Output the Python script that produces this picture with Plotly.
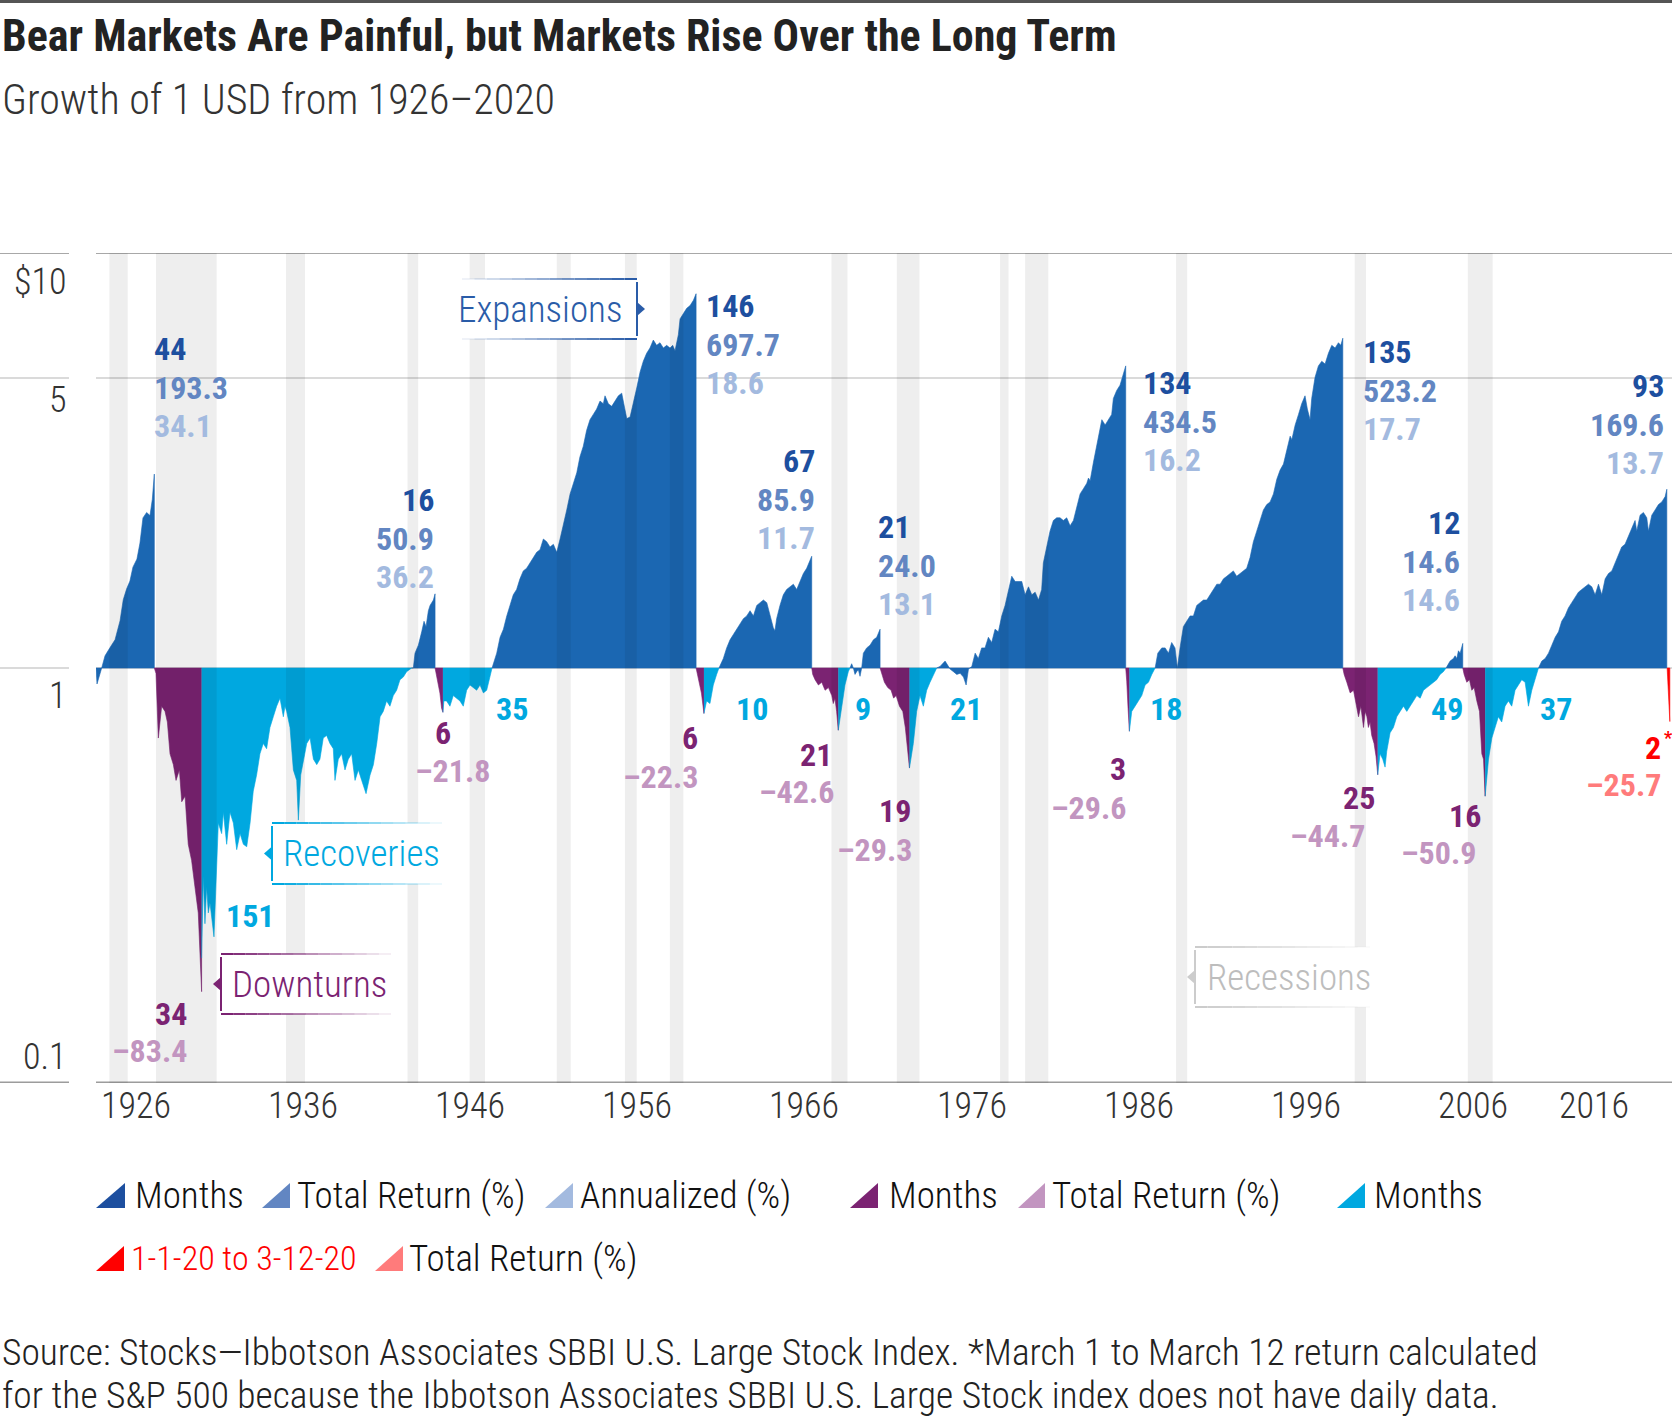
import glob
import math
import os
import subprocess

import plotly.graph_objects as go

# ---------------- data (years as decimal, values = growth of 1 USD within each phase) ----------------
exp1_t = [1926.12, 1926.18, 1926.46, 1926.66, 1926.96, 1927.26, 1927.56, 1927.75, 1927.95, 1928.15, 1928.33,
          1928.57, 1928.75, 1928.93, 1929.15, 1929.35, 1929.49, 1929.61]
exp1_v = [1.00, 0.915, 1.00, 1.07, 1.12, 1.17, 1.30, 1.46, 1.55, 1.62, 1.75, 1.83, 2.00, 2.30, 2.37, 2.33, 2.55, 2.933]

dn1_t = [1929.61, 1929.71, 1929.85, 1930.05, 1930.25, 1930.39, 1930.55, 1930.75, 1930.91, 1931.11, 1931.25,
         1931.45, 1931.64, 1931.84, 1932.04, 1932.24, 1932.44]
dn1_v = [1.00, 0.97, 0.678, 0.809, 0.786, 0.741, 0.621, 0.585, 0.536, 0.568, 0.476, 0.491, 0.376, 0.344, 0.297,
         0.257, 0.166]

rc1_t = [1932.44, 1932.54, 1932.64, 1932.74, 1932.84, 1932.94, 1933.18, 1933.34, 1933.44, 1933.64, 1933.74, 1933.94,
         1934.14, 1934.34, 1934.54, 1934.74, 1934.94, 1935.14, 1935.34, 1935.53, 1935.73, 1935.93, 1936.13, 1936.33,
         1936.53, 1936.73, 1936.93, 1937.13, 1937.23, 1937.33, 1937.43, 1937.53, 1937.73, 1937.93, 1938.13, 1938.23,
         1938.37, 1938.53, 1938.73, 1938.93, 1939.13, 1939.33, 1939.52, 1939.72, 1939.92, 1940.12, 1940.32, 1940.42,
         1940.62, 1940.82, 1941.02, 1941.22, 1941.42, 1941.62, 1941.82, 1942.02, 1942.28, 1942.52, 1942.72, 1942.92,
         1943.12, 1943.31, 1943.51, 1943.71, 1943.91, 1944.11, 1944.31, 1944.51, 1944.71, 1945.01]
rc1_v = [0.20, 0.315, 0.242, 0.297, 0.257, 0.272, 0.225, 0.344, 0.423, 0.399, 0.449, 0.376, 0.449, 0.423, 0.365,
         0.399, 0.376, 0.371, 0.423, 0.505, 0.552, 0.621, 0.658, 0.639, 0.719, 0.763, 0.809, 0.846, 0.809, 0.763,
         0.809, 0.786, 0.719, 0.568, 0.536, 0.430, 0.552, 0.603, 0.658, 0.678, 0.603, 0.585, 0.603, 0.678, 0.688,
         0.658, 0.639, 0.536, 0.603, 0.621, 0.568, 0.603, 0.621, 0.536, 0.568, 0.536, 0.498, 0.552, 0.585, 0.658,
         0.763, 0.786, 0.833, 0.809, 0.858, 0.884, 0.937, 0.951, 0.980, 1.00]

exp2_t = [1945.01, 1945.11, 1945.21, 1945.41, 1945.61, 1945.75, 1945.87, 1946.01, 1946.11, 1946.31, 1946.41]
exp2_v = [1.00, 1.00, 1.086, 1.135, 1.222, 1.296, 1.258, 1.374, 1.415, 1.458, 1.509]

dn2_t = [1946.41, 1946.50, 1946.60, 1946.70, 1946.80, 1946.88]
dn2_v = [1.00, 0.95, 0.91, 0.87, 0.80, 0.782]

rc2_t = [1946.88, 1946.94, 1947.10, 1947.30, 1947.50, 1947.70, 1947.90, 1948.10, 1948.30, 1948.50, 1948.70,
         1948.90, 1949.10, 1949.30, 1949.50, 1949.70, 1949.82]
rc2_v = [0.782, 0.833, 0.833, 0.809, 0.858, 0.846, 0.833, 0.809, 0.884, 0.910, 0.897, 0.884, 0.910, 0.871, 0.884,
         0.965, 1.00]

exp3_t = [1949.82, 1950.10, 1950.30, 1950.50, 1950.70, 1950.90, 1951.09, 1951.29, 1951.49, 1951.69, 1951.89,
          1952.09, 1952.29, 1952.49, 1952.69, 1952.89, 1953.09, 1953.29, 1953.49, 1953.69, 1953.89, 1954.09,
          1954.29, 1954.49, 1954.69, 1954.89, 1955.08, 1955.28, 1955.48, 1955.68, 1955.88, 1956.08, 1956.28,
          1956.48, 1956.58, 1956.78, 1956.98, 1957.18, 1957.38, 1957.58, 1957.72, 1957.88, 1958.08, 1958.28,
          1958.48, 1958.68, 1958.87, 1959.07, 1959.27, 1959.47, 1959.67, 1959.87, 1960.07, 1960.27, 1960.47,
          1960.63, 1960.77, 1960.97, 1961.07, 1961.27, 1961.47, 1961.67, 1961.87, 1962.03]
exp3_v = [1.00, 1.086, 1.186, 1.240, 1.335, 1.415, 1.501, 1.546, 1.640, 1.714, 1.739, 1.791, 1.845, 1.900, 1.928,
          2.045, 2.015, 1.957, 1.986, 1.900, 2.045, 2.201, 2.404, 2.627, 2.786, 2.954, 3.228, 3.423, 3.739, 3.966,
          4.084, 4.207, 4.397, 4.333, 4.528, 4.333, 4.270, 4.397, 4.528, 4.595, 4.333, 3.990, 4.025, 4.333, 4.732,
          5.170, 5.483, 5.731, 5.902, 6.169, 5.990, 6.079, 5.902, 5.990, 5.902, 5.990, 5.815, 6.354, 6.938, 7.145,
          7.359, 7.468, 7.691, 7.977]

dn3_t = [1962.03, 1962.20, 1962.35, 1962.50]
dn3_v = [1.00, 0.93, 0.87, 0.777]

rc3_t = [1962.50, 1962.66, 1962.86, 1963.06, 1963.26, 1963.40]
rc3_v = [0.777, 0.833, 0.821, 0.910, 0.965, 1.00]

exp4_t = [1963.40, 1963.66, 1963.86, 1964.06, 1964.26, 1964.46, 1964.66, 1964.86, 1965.06, 1965.26, 1965.46,
          1965.66, 1965.86, 1966.06, 1966.26, 1966.46, 1966.65, 1966.75, 1966.85, 1967.05, 1967.25, 1967.45,
          1967.65, 1967.85, 1968.05, 1968.25, 1968.45, 1968.65, 1968.85, 1968.95]
exp4_v = [1.00, 1.054, 1.118, 1.169, 1.204, 1.240, 1.277, 1.315, 1.335, 1.374, 1.335, 1.415, 1.437, 1.458, 1.437,
          1.335, 1.251, 1.229, 1.315, 1.415, 1.501, 1.546, 1.569, 1.592, 1.546, 1.616, 1.689, 1.739, 1.818, 1.859]

dn4_t = [1968.95, 1969.01, 1969.15, 1969.35, 1969.55, 1969.75, 1969.95, 1970.15, 1970.24, 1970.34, 1970.44, 1970.54]
dn4_v = [1.00, 0.965, 0.937, 0.910, 0.924, 0.884, 0.897, 0.858, 0.821, 0.846, 0.786, 0.708]

rc4_t = [1970.54, 1970.74, 1970.94, 1971.14, 1971.24]
rc4_v = [0.708, 0.809, 0.910, 0.980, 1.00]

exp5_t = [1971.24, 1971.34, 1971.44, 1971.54, 1971.64, 1971.74, 1971.84, 1971.94, 1972.04, 1972.24, 1972.44,
          1972.64, 1972.84, 1973.04]
exp5_v = [1.00, 1.024, 1.00, 0.965, 0.98, 0.99, 0.955, 1.00, 1.086, 1.118, 1.135, 1.169, 1.186, 1.240]

dn5_t = [1973.04, 1973.14, 1973.30, 1973.50, 1973.70, 1973.85, 1974.00, 1974.20, 1974.40, 1974.55, 1974.65,
         1974.73, 1974.80]
dn5_v = [1.00, 0.965, 0.924, 0.897, 0.884, 0.846, 0.858, 0.809, 0.786, 0.719, 0.658, 0.621, 0.574]

rc5_t = [1974.80, 1974.93, 1975.03, 1975.23, 1975.43, 1975.63, 1975.83, 1976.03, 1976.23, 1976.43]
rc5_v = [0.574, 0.630, 0.658, 0.786, 0.858, 0.809, 0.884, 0.924, 0.965, 1.00]

exp6_t = [1976.43, 1976.63, 1976.93, 1977.03, 1977.23, 1977.43, 1977.63, 1977.83, 1978.03, 1978.19, 1978.33,
          1978.53, 1978.73, 1978.92, 1979.12, 1979.32, 1979.52, 1979.72, 1979.92, 1980.12, 1980.32, 1980.52,
          1980.72, 1980.92, 1981.12, 1981.32, 1981.52, 1981.72, 1981.92, 1982.12, 1982.32, 1982.52, 1982.71,
          1982.81, 1983.01, 1983.21, 1983.41, 1983.61, 1983.81, 1984.01, 1984.21, 1984.41, 1984.61, 1984.81,
          1985.01, 1985.21, 1985.41, 1985.51, 1985.61, 1985.81, 1986.01, 1986.21, 1986.31, 1986.51, 1986.70,
          1986.90, 1987.00, 1987.20, 1987.40, 1987.60, 1987.74]
exp6_v = [1.00, 1.009, 1.039, 1.024, 0.994, 0.980, 0.965, 0.971, 0.951, 0.910, 0.994, 1.009, 1.086, 1.054, 1.118,
          1.118, 1.186, 1.152, 1.240, 1.222, 1.335, 1.415, 1.523, 1.664, 1.616, 1.616, 1.616, 1.501, 1.569, 1.501,
          1.523, 1.458, 1.546, 1.791, 1.957, 2.137, 2.267, 2.301, 2.301, 2.267, 2.301, 2.201, 2.267, 2.440, 2.627,
          2.705, 2.786, 2.869, 2.827, 3.134, 3.423, 3.739, 3.966, 3.851, 3.966, 4.084, 4.462, 4.664, 4.803, 5.093,
          5.345]

dn6_t = [1987.74, 1987.80, 1987.88, 1987.96]
dn6_v = [1.00, 0.93, 0.80, 0.704]

rc6_t = [1987.96, 1988.10, 1988.30, 1988.50, 1988.70, 1988.90, 1989.10, 1989.30, 1989.50]
rc6_v = [0.704, 0.786, 0.809, 0.833, 0.858, 0.910, 0.924, 0.965, 1.00]

exp7_t = [1989.50, 1989.66, 1989.90, 1990.10, 1990.30, 1990.49, 1990.69, 1990.83, 1990.99, 1991.19, 1991.39,
          1991.59, 1991.79, 1991.99, 1992.19, 1992.39, 1992.59, 1992.79, 1992.99, 1993.19, 1993.39, 1993.59,
          1993.79, 1993.99, 1994.18, 1994.38, 1994.58, 1994.78, 1994.98, 1995.18, 1995.38, 1995.58, 1995.78,
          1995.98, 1996.18, 1996.38, 1996.58, 1996.78, 1996.98, 1997.18, 1997.38, 1997.58, 1997.68, 1997.88,
          1998.08, 1998.27, 1998.47, 1998.61, 1998.77, 1998.87, 1999.07, 1999.27, 1999.47, 1999.67, 1999.87,
          2000.07, 2000.27, 2000.47, 2000.61, 2000.73]
exp7_v = [1.00, 1.086, 1.118, 1.118, 1.086, 1.152, 1.118, 1.00, 1.118, 1.258, 1.296, 1.335, 1.335, 1.415, 1.437,
          1.458, 1.458, 1.501, 1.546, 1.592, 1.592, 1.640, 1.664, 1.689, 1.714, 1.664, 1.689, 1.714, 1.739, 1.845,
          2.015, 2.137, 2.267, 2.404, 2.476, 2.513, 2.627, 2.85, 3.00, 3.10, 3.35, 3.62, 3.55, 3.851, 4.084, 4.333,
          4.528, 4.207, 3.966, 4.462, 5.018, 5.345, 5.483, 5.403, 5.731, 5.990, 5.902, 6.079, 5.990, 6.232]

dn7_t = [2000.73, 2000.81, 2000.97, 2001.17, 2001.37, 2001.53, 2001.67, 2001.81, 2001.97, 2002.07, 2002.17,
         2002.26, 2002.36, 2002.46, 2002.60, 2002.72, 2002.82]
dn7_v = [1.00, 0.965, 0.924, 0.871, 0.884, 0.809, 0.763, 0.809, 0.719, 0.786, 0.763, 0.719, 0.741, 0.688, 0.658,
         0.612, 0.553]

rc7_t = [2002.82, 2002.96, 2003.12, 2003.26, 2003.36, 2003.56, 2003.76, 2003.96, 2004.16, 2004.36, 2004.56,
         2004.76, 2004.96, 2005.16, 2005.36, 2005.56, 2005.76, 2005.96, 2006.15, 2006.35, 2006.55, 2006.75, 2006.91]
rc7_v = [0.553, 0.621, 0.603, 0.577, 0.630, 0.698, 0.719, 0.763, 0.786, 0.809, 0.786, 0.809, 0.833, 0.858, 0.846,
         0.884, 0.897, 0.910, 0.924, 0.937, 0.965, 0.980, 1.00]

exp8_t = [2006.91, 2007.15, 2007.35, 2007.45, 2007.55, 2007.65, 2007.75, 2007.91]
exp8_v = [1.00, 1.039, 1.054, 1.07, 1.054, 1.10, 1.086, 1.146]

dn8_t = [2007.91, 2007.99, 2008.15, 2008.31, 2008.45, 2008.59, 2008.75, 2008.91, 2009.05, 2009.15, 2009.25]
dn8_v = [1.00, 0.965, 0.924, 0.937, 0.884, 0.897, 0.833, 0.786, 0.621, 0.603, 0.491]

rc8_t = [2009.25, 2009.45, 2009.65, 2009.85, 2010.04, 2010.24, 2010.44, 2010.64, 2010.84, 2011.04, 2011.24,
         2011.44, 2011.64, 2011.84, 2012.04, 2012.24, 2012.34, 2012.44]
rc8_v = [0.491, 0.603, 0.678, 0.719, 0.763, 0.741, 0.809, 0.833, 0.809, 0.884, 0.910, 0.937, 0.924, 0.809, 0.884,
         0.937, 0.965, 1.00]

exp9_t = [2012.44, 2012.64, 2012.84, 2013.04, 2013.24, 2013.44, 2013.64, 2013.83, 2014.03, 2014.23, 2014.43,
          2014.63, 2014.83, 2015.03, 2015.23, 2015.43, 2015.63, 2015.83, 2016.03, 2016.23, 2016.43, 2016.63,
          2016.83, 2017.03, 2017.23, 2017.42, 2017.62, 2017.82, 2018.02, 2018.22, 2018.32, 2018.52, 2018.72,
          2018.92, 2019.02, 2019.22, 2019.42, 2019.62, 2019.82, 2020.02, 2020.12]
exp9_v = [1.00, 1.039, 1.054, 1.086, 1.135, 1.186, 1.222, 1.296, 1.335, 1.395, 1.437, 1.479, 1.523, 1.546, 1.569,
          1.592, 1.569, 1.501, 1.592, 1.501, 1.640, 1.689, 1.714, 1.791, 1.872, 1.957, 1.986, 2.076, 2.169, 2.267,
          2.137, 2.335, 2.370, 2.301, 2.137, 2.335, 2.404, 2.476, 2.513, 2.588, 2.696]

dn9_t = [2020.14, 2020.22, 2020.30]
dn9_v = [1.00, 0.88, 0.743]

# recessions (shaded bands)
rec_start = [1926.92, 1929.71, 1937.49, 1944.76, 1948.48, 1953.69, 1957.77, 1960.46, 1970.13, 1974.04, 1980.22,
             1981.72, 1990.75, 2001.44, 2008.21]
rec_end = [1928.02, 1933.34, 1938.63, 1945.40, 1949.40, 1954.53, 1958.48, 1961.27, 1971.09, 1975.40, 1980.73,
           1983.11, 1991.42, 2002.12, 2009.70]

# label values
exp_months = ["44", "16", "146", "67", "21", "134", "135", "12", "93"]
exp_total = ["193.3", "50.9", "697.7", "85.9", "24.0", "434.5", "523.2", "14.6", "169.6"]
exp_annual = ["34.1", "36.2", "18.6", "11.7", "13.1", "16.2", "17.7", "14.6", "13.7"]
dn_months = ["34", "6", "6", "21", "19", "3", "25", "16"]
dn_total = ["\u201383.4", "\u201321.8", "\u201322.3", "\u201342.6", "\u201329.3", "\u201329.6", "\u201344.7", "\u201350.9"]
rc_months = ["151", "35", "10", "9", "21", "18", "49", "37"]
covid_months = "2"
covid_total = "\u201325.7"

x_ticks = [1926, 1936, 1946, 1956, 1966, 1976, 1986, 1996, 2006, 2016]
y_ticks = [10, 5, 1, 0.1]
y_tick_text = ["$10", "5", "1", "0.1"]


# ---------------- font choice (pick the narrowest family that is installed) ----------------
def installed_families():
    fams = set()
    try:
        out = subprocess.run(["fc-list", ":", "family"], capture_output=True, text=True, timeout=20).stdout
        for line in out.splitlines():
            for part in line.split(","):
                fams.add(part.strip().replace("\\-", "-"))
    except Exception:
        pass
    files = []
    for root in ["/usr/share/fonts", "/usr/local/share/fonts", os.path.expanduser("~/.fonts"),
                 os.path.expanduser("~/.local/share/fonts")]:
        files += glob.glob(os.path.join(root, "**", "*.*"), recursive=True)
    for p in files:
        n = os.path.basename(p).lower()
        if n.startswith("robotocondensed"):
            fams.add("Roboto Condensed")
        if n.startswith("liberationsansnarrow"):
            fams.add("Liberation Sans Narrow")
        if n.startswith("notosans-condensed"):
            fams.add("Noto Sans Condensed")
        if n.startswith("dejavusanscondensed"):
            fams.add("DejaVu Sans Condensed")
    return fams


FAMS = installed_families()
PROFILES = [
    ("Roboto Condensed", dict(bold="'Roboto Condensed', sans-serif",
                              light="'Roboto Condensed Light', 'Roboto Condensed', sans-serif",
                              title=44, sub=42, axis=36, num=32, legend=37, foot=37.5, call=37, covid=34)),
    ("Noto Sans Condensed", dict(bold="'Noto Sans Condensed', sans-serif",
                                 light="'Noto Sans Condensed Light', 'Noto Sans Condensed', sans-serif",
                                 title=40, sub=41, axis=35, num=31, legend=36, foot=35, call=36, covid=33)),
    ("Liberation Sans Narrow", dict(bold="'Liberation Sans Narrow', sans-serif",
                                    light="'Liberation Sans Narrow', sans-serif",
                                    title=41, sub=42, axis=36, num=31, legend=38, foot=36, call=38, covid=34)),
    ("DejaVu Sans Condensed", dict(bold="'DejaVu Sans Condensed', sans-serif",
                                   light="'DejaVu Sans Condensed', sans-serif",
                                   title=35, sub=36, axis=31, num=27, legend=33, foot=32, call=32, covid=30)),
]
P = PROFILES[-1][1]
for name, prof in PROFILES:
    if name in FAMS:
        P = prof
        break
LIGHT = P["light"]
BOLD = P["bold"]

# ---------------- style ----------------
W, H = 1672, 1418
PL, PR, PT, PB = 96, 1672, 253, 1083
X_RANGE = [1926.12, 2020.43]

C_EXP = "#1b67b2"
C_DN = "#7b2372"
C_RC = "#00a8e0"
C_RED = "#ff0000"
C_M_BLUE = "#1d4f9f"
C_T_BLUE = "#6286c2"
C_A_BLUE = "#a3badf"
C_T_PURP = "#c295c0"
C_L_RED = "#ff7b7b"


def fx(x):
    return (x - PL) / (PR - PL)


def fy(y):
    return (PB - y) / (PB - PT)


def year_px(yr):
    return PL + (yr - X_RANGE[0]) * (PR - PL) / (X_RANGE[1] - X_RANGE[0])


fig = go.Figure()

segments = [
    (exp1_t, exp1_v, C_EXP), (dn1_t, dn1_v, C_DN), (rc1_t, rc1_v, C_RC),
    (exp2_t, exp2_v, C_EXP), (dn2_t, dn2_v, C_DN), (rc2_t, rc2_v, C_RC),
    (exp3_t, exp3_v, C_EXP), (dn3_t, dn3_v, C_DN), (rc3_t, rc3_v, C_RC),
    (exp4_t, exp4_v, C_EXP), (dn4_t, dn4_v, C_DN), (rc4_t, rc4_v, C_RC),
    (exp5_t, exp5_v, C_EXP), (dn5_t, dn5_v, C_DN), (rc5_t, rc5_v, C_RC),
    (exp6_t, exp6_v, C_EXP), (dn6_t, dn6_v, C_DN), (rc6_t, rc6_v, C_RC),
    (exp7_t, exp7_v, C_EXP), (dn7_t, dn7_v, C_DN), (rc7_t, rc7_v, C_RC),
    (exp8_t, exp8_v, C_EXP), (dn8_t, dn8_v, C_DN), (rc8_t, rc8_v, C_RC),
    (exp9_t, exp9_v, C_EXP), (dn9_t, dn9_v, C_RED),
]
for t, v, col in segments:
    pts = list(zip(t, v))
    xs = [p[0] for p in pts] + [pts[-1][0], pts[0][0]]
    ys = [p[1] for p in pts] + [1.0, 1.0]
    fig.add_trace(go.Scatter(x=xs, y=ys, mode="lines", fill="toself", fillcolor=col,
                             line=dict(color=col, width=0.6), hoverinfo="skip", showlegend=False))

shapes = []
grid_style = {10: ("#a8a8a8", 2), 5: ("#dadada", 2), 1: ("#dadada", 2), 0.1: ("#9c9c9c", 3)}
for val in y_ticks:
    col, wdt = grid_style[val]
    for x0, x1 in [(0.0, 1.0), (fx(0), fx(69))]:
        shapes.append(dict(type="line", xref="paper", yref="y", x0=x0, x1=x1, y0=val, y1=val,
                           line=dict(color=col, width=wdt), layer="below"))
shapes.append(dict(type="line", xref="paper", yref="paper", x0=fx(0), x1=fx(W), y0=fy(1.5), y1=fy(1.5),
                   line=dict(color="#555555", width=3)))

for a, b in zip(rec_start, rec_end):
    shapes.append(dict(type="rect", xref="x", yref="paper", x0=a, x1=b, y0=0, y1=1,
                       fillcolor="rgba(0,0,0,0.065)", line=dict(width=0), layer="above"))

annotations = []


def ann(text, x, y, size, color, family, xanchor="left", yanchor="middle", weight=None):
    f = dict(family=family, size=size, color=color)
    if weight:
        f["weight"] = weight
    annotations.append(dict(text=text, x=fx(x), y=fy(y), xref="paper", yref="paper", xanchor=xanchor,
                            yanchor=yanchor, showarrow=False, font=f))


def callout(label, edge, top, bottom, length, side, color, text_color, text_x, text_anchor):
    if side == "left":
        bx0, bx1 = edge, edge + length
    else:
        bx0, bx1 = edge - length, edge
    shapes.append(dict(type="rect", xref="paper", yref="paper", x0=fx(bx0), x1=fx(bx1), y0=fy(bottom), y1=fy(top),
                       fillcolor="white", line=dict(width=0), layer="above"))
    shapes.append(dict(type="line", xref="paper", yref="paper", x0=fx(edge), x1=fx(edge), y0=fy(bottom - 3),
                       y1=fy(top + 3), line=dict(color=color, width=2), layer="above"))
    n = 14
    for i in range(n):
        op = max(0.0, 1.0 - i / n)
        if side == "left":
            a = edge + i * length / n
            b = edge + (i + 1) * length / n
        else:
            a = edge - i * length / n
            b = edge - (i + 1) * length / n
        for yy in (top, bottom):
            shapes.append(dict(type="line", xref="paper", yref="paper", x0=fx(a), x1=fx(b), y0=fy(yy), y1=fy(yy),
                               line=dict(color=color, width=2), opacity=op, layer="above"))
    mid = (top + bottom) / 2
    tip = edge - 8 if side == "left" else edge + 8
    path = "M {} {} L {} {} L {} {} Z".format(fx(edge), fy(mid - 7), fx(tip), fy(mid), fx(edge), fy(mid + 7))
    shapes.append(dict(type="path", xref="paper", yref="paper", path=path, fillcolor=color,
                       line=dict(width=0), layer="above"))
    ann(label, text_x, mid, P["call"], text_color, LIGHT, xanchor=text_anchor, weight=300)


callout("Expansions", 637, 279, 339, 175, "right", "#2a5ca8", "#2a5ca8", 624, "right")
callout("Recoveries", 272, 823, 884, 170, "left", C_RC, C_RC, 281, "left")
callout("Downturns", 221, 954, 1014, 170, "left", C_DN, C_DN, 230, "left")
callout("Recessions", 1195, 947, 1007, 175, "left", "#cccccc", "#bdbdbd", 1205, "left")

NUM = P["num"]
LS = 38.5
exp_pos = [(152, "left", 349), (436, "right", 500), (704, "left", 306), (817, "right", 461), (876, "left", 527),
           (1141, "left", 383), (1361, "left", 352), (1462, "right", 523), (1666, "right", 386)]
for (x, anc, y0), m, tr, an in zip(exp_pos, exp_months, exp_total, exp_annual):
    ann(m, x, y0, NUM, C_M_BLUE, BOLD, xanchor=anc, weight=700)
    ann(tr, x, y0 + LS, NUM, C_T_BLUE, BOLD, xanchor=anc, weight=700)
    ann(an, x, y0 + 2 * LS, NUM, C_A_BLUE, BOLD, xanchor=anc, weight=700)

dn_pos = [(189, 1014, 189, 1051), (453, 733, 492, 771), (700, 738, 700, 777), (834, 755, 836, 792),
          (913, 811, 914, 850), (1128, 769, 1128, 808), (1377, 798, 1367, 836), (1483, 816, 1478, 853)]
for (mx, my, tx, ty), m, tr in zip(dn_pos, dn_months, dn_total):
    ann(m, mx, my, NUM, C_DN, BOLD, xanchor="right", weight=700)
    ann(tr, tx, ty, NUM, C_T_PURP, BOLD, xanchor="right", weight=700)

rc_pos = [(224, 916), (494, 709), (734, 709), (853, 709), (948, 709), (1148, 709), (1429, 709), (1538, 709)]
for (x, y), m in zip(rc_pos, rc_months):
    ann(m, x, y, NUM, C_RC, BOLD, weight=700)

ann(covid_months, 1663, 748, NUM, C_RED, BOLD, xanchor="right", weight=700)
ann("*", 1662, 737, 18, C_RED, BOLD, xanchor="left", weight=700)
ann(covid_total, 1663, 785, NUM, C_L_RED, BOLD, xanchor="right", weight=700)

# y tick labels, positioned on the log axis and set just below their rules as in the original
y_label_shift = {10: -29, 5: -22, 1: -28, 0.1: 26}
for val, txt in zip(y_ticks, y_tick_text):
    annotations.append(dict(text=txt, x=fx(69), xref="paper", y=math.log10(val), yref="y", yshift=y_label_shift[val],
                            xanchor="right", yanchor="middle", showarrow=False,
                            font=dict(family=LIGHT, size=P["axis"], color="#333333", weight=300)))

# x tick labels (left-aligned at their year; last one nudged left to stay inside)
for yr in x_ticks:
    xpix = year_px(yr) + (5 if yr != 2016 else -41)
    ann(str(yr), xpix, 1106, P["axis"], "#333333", LIGHT, weight=300)

ann("Bear Markets Are Painful, but Markets Rise Over the Long Term", 0, 36, P["title"], "#222222", BOLD, weight=700)
ann("Growth of 1 USD from 1926\u20132020", 0, 99, P["sub"], "#333333", LIGHT, weight=300)

LEG = P["legend"]
legend_row1 = [((96, 125), C_M_BLUE, "Months", 133, "#111111", LEG),
               ((262, 290), C_T_BLUE, "Total Return (%)", 295, "#111111", LEG),
               ((545, 573), C_A_BLUE, "Annualized (%)", 578, "#111111", LEG),
               ((850, 878), C_DN, "Months", 887, "#111111", LEG),
               ((1018, 1045), C_T_PURP, "Total Return (%)", 1050, "#111111", LEG),
               ((1337, 1365), C_RC, "Months", 1372, "#111111", LEG)]
legend_row2 = [((96, 124), C_RED, "1-1-20 to 3-12-20", 129, C_RED, P["covid"]),
               ((375, 403), C_L_RED, "Total Return (%)", 407, "#111111", LEG)]
for row, yc in ((legend_row1, 1195), (legend_row2, 1258)):
    for (x0, x1), col, txt, tx, tcol, fs in row:
        base, top = yc + 13, yc - 12
        path = "M {} {} L {} {} L {} {} Z".format(fx(x0), fy(base), fx(x1), fy(base), fx(x1), fy(top))
        shapes.append(dict(type="path", xref="paper", yref="paper", path=path, fillcolor=col, line=dict(width=0)))
        ann(txt, tx, yc, fs, tcol, LIGHT, weight=300)

ann("Source: Stocks\u2014Ibbotson Associates SBBI U.S. Large Stock Index. *March 1 to March 12 return calculated",
    0, 1352, P["foot"], "#222222", LIGHT, weight=300)
ann("for the S&amp;P 500 because the Ibbotson Associates SBBI U.S. Large Stock index does not have daily data.",
    0, 1395, P["foot"], "#222222", LIGHT, weight=300)

fig.update_layout(
    width=W, height=H,
    margin=dict(l=PL, r=W - PR, t=PT, b=H - PB, pad=0),
    paper_bgcolor="white", plot_bgcolor="white",
    showlegend=False,
    xaxis=dict(range=X_RANGE, visible=False, fixedrange=True),
    yaxis=dict(type="log", range=[-1, 1], visible=False, fixedrange=True),
    shapes=shapes,
    annotations=annotations,
)

fig.write_html("out.html", config={"displayModeBar": False},
               post_script="document.body.style.margin='0px';")
